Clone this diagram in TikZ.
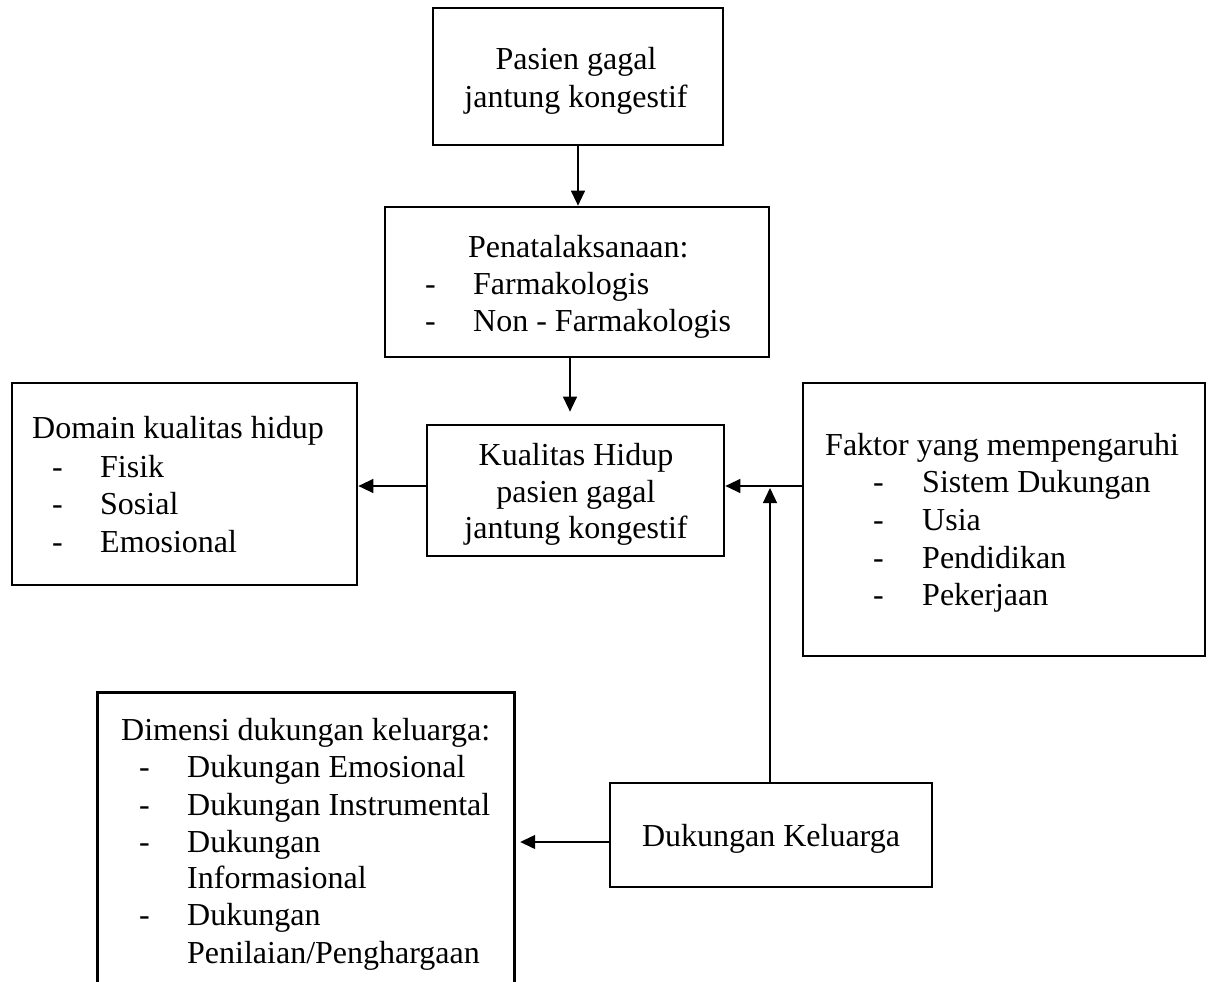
\documentclass[tikz,border=0pt]{standalone}
\usepackage{fontspec}
\setmainfont{Liberation Serif}
\usetikzlibrary{arrows.meta,calc}
\begin{document}
\begin{tikzpicture}[x=1pt,y=-1pt,
  box/.style={draw, line width=2.7pt, inner sep=0pt},
  arr/.style={line width=1.3pt, -{Triangle[width=14pt,length=15pt]}},
  txt/.style={inner sep=0pt, font=\fontsize{32}{37}\selectfont},
  lt/.style={txt, anchor=base west},
  ct/.style={txt, anchor=base}]
\useasboundingbox (0,0) rectangle (1208,982);
% boxes
\node[box, minimum width=290pt, minimum height=137pt] (p) at (578,76.5) {};
\node[box, minimum width=384pt, minimum height=150pt] (pen) at (577,282) {};
\node[box, minimum width=297pt, minimum height=131pt] (kual) at (575.5,490.5) {};
\node[box, minimum width=345pt, minimum height=202pt] (dom) at (184.5,484) {};
\node[box, minimum width=402pt, minimum height=273pt] (fak) at (1004,519.5) {};
\node[box, minimum width=322pt, minimum height=104pt] (dk) at (771,835) {};
\node[inner sep=0pt, minimum width=416pt, minimum height=289pt] (dim) at (306,837.5) {};
\draw[line width=2.7pt] (dim.south west) -- (dim.north west) -- (dim.north east) -- (dim.south east);
% texts
\node[ct] (t1) at (576,70) {Pasien gagal};
\node[ct] (t2) at (576,107) {jantung kongestif};
\node[lt] (t3) at (468,257) {Penatalaksanaan:};
\node[lt] (t4) at (425,294) {-};
\node[lt] (t5) at (473,294) {Farmakologis};
\node[lt] (t6) at (425,331) {-};
\node[lt] (t7) at (473,331) {Non - Farmakologis};
\node[ct] (t8) at (576,465) {Kualitas Hidup};
\node[ct] (t9) at (576,502) {pasien gagal};
\node[ct] (t10) at (576,538) {jantung kongestif};
\node[lt] (t11) at (32,438) {Domain kualitas hidup};
\node[lt] (t12) at (52,477) {-};
\node[lt] (t13) at (100,477) {Fisik};
\node[lt] (t14) at (52,514) {-};
\node[lt] (t15) at (100,514) {Sosial};
\node[lt] (t16) at (52,552) {-};
\node[lt] (t17) at (100,552) {Emosional};
\node[lt] (t18) at (825,455) {Faktor yang mempengaruhi};
\node[lt] (t19) at (873,492) {-};
\node[lt] (t20) at (922,492) {Sistem Dukungan};
\node[lt] (t21) at (873,530) {-};
\node[lt] (t22) at (922,530) {Usia};
\node[lt] (t23) at (873,568) {-};
\node[lt] (t24) at (922,568) {Pendidikan};
\node[lt] (t25) at (873,605) {-};
\node[lt] (t26) at (922,605) {Pekerjaan};
\node[ct] (t27) at (771,846) {Dukungan Keluarga};
\node[lt] (t28) at (121,740) {Dimensi dukungan keluarga:};
\node[lt] (t29) at (139,777) {-};
\node[lt] (t30) at (187,777) {Dukungan Emosional};
\node[lt] (t31) at (139,815) {-};
\node[lt] (t32) at (187,815) {Dukungan Instrumental};
\node[lt] (t33) at (139,852) {-};
\node[lt] (t34) at (187,852) {Dukungan};
\node[lt] (t35) at (187,888) {Informasional};
\node[lt] (t36) at (139,925) {-};
\node[lt] (t37) at (187,925) {Dukungan};
\node[lt] (t38) at (187,963) {Penilaian/Penghargaan};
% connectors
\coordinate (j) at (770,486);
\draw[arr] (p.south) -- (p.south |- pen.north);
\draw[arr] ([xshift=-7pt]pen.south) -- ([xshift=-7pt,yshift=12pt]pen.south |- kual.north);
\draw[arr] (kual.west |- j) -- (dom.east |- j);
\draw[arr] (fak.west |- j) -- (kual.east |- j);
\draw[arr] (dk.north -| j) -- ([yshift=-2pt]j);
\draw[arr] (dk.west |- 0,842) -- ([xshift=6pt]dim.east |- 0,842);
\end{tikzpicture}
\end{document}
